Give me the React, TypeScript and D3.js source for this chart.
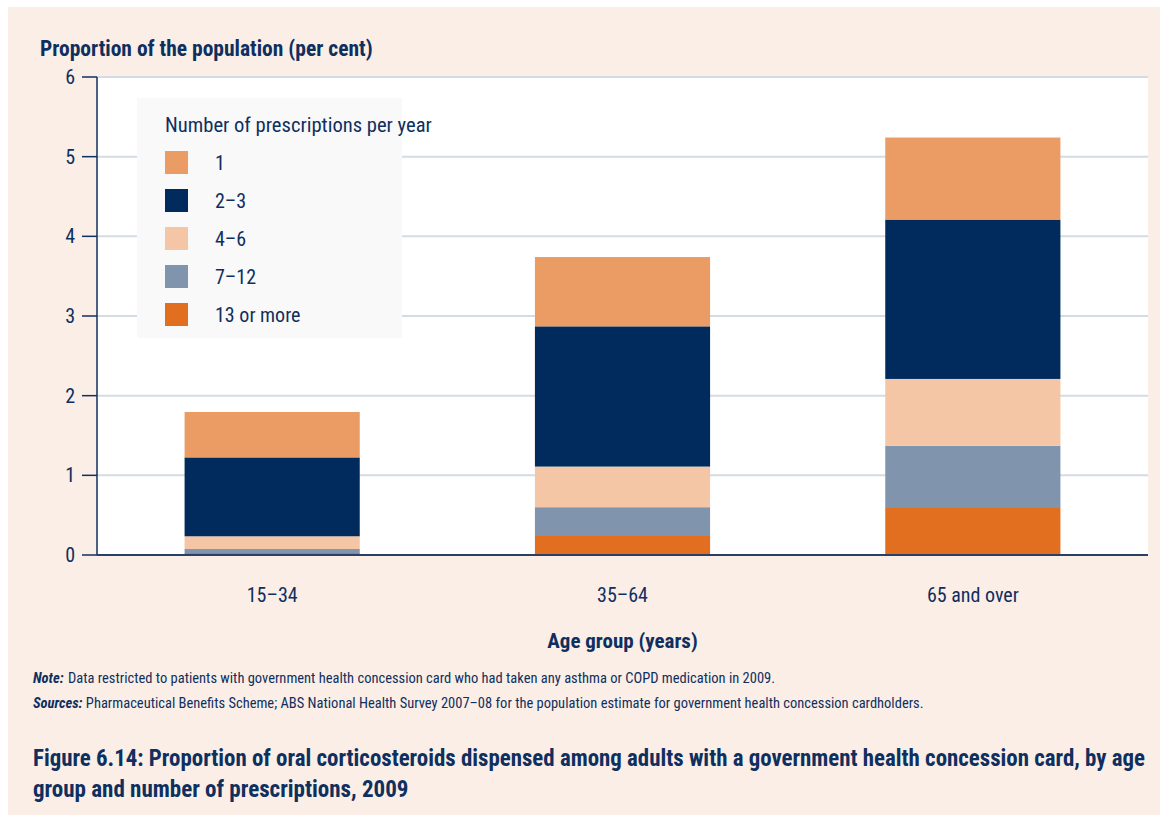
import React from "react";
import * as d3 from "d3";

const categories = ["15–34", "35–64", "65 and over"];
const seriesNames = ["13 or more", "7–12", "4–6", "2–3", "1"];
const s13plus = [0.025, 0.25, 0.59];
const s7to12 = [0.05, 0.35, 0.78];
const s4to6 = [0.16, 0.51, 0.84];
const s2to3 = [0.99, 1.76, 2.0];
const s1 = [0.57, 0.87, 1.03];
const yTicks = [0, 1, 2, 3, 4, 5, 6];
const legendOrder = ["1", "2–3", "4–6", "7–12", "13 or more"];

const colors: Record<string, string> = {
  "1": "#eb9b64",
  "2–3": "#002b5c",
  "4–6": "#f4c6a6",
  "7–12": "#8194ae",
  "13 or more": "#e26e1f",
};

const FONT = "'Liberation Sans Narrow', 'Roboto Condensed', 'Liberation Sans', sans-serif";
const NAVY = "#0f2f5f";

export default function App() {
  const W = 1166, H = 820;
  const left = 97, right = 1148, top = 77, bottom = 555;
  const x = d3.scaleBand<string>().domain(categories).range([left, right]).paddingInner(0.5).paddingOuter(0.25);
  const y = d3.scaleLinear().domain([0, 6]).range([bottom, top]);

  const table = categories.map((c, i) => ({
    cat: c,
    "13 or more": s13plus[i],
    "7–12": s7to12[i],
    "4–6": s4to6[i],
    "2–3": s2to3[i],
    "1": s1[i],
  }));
  const stacked = d3.stack<any>().keys(seriesNames)(table);

  return (
    <svg width={W} height={H} style={{ position: "absolute", left: 0, top: 0 }} fontFamily={FONT}>
      <rect x={0} y={0} width={W} height={H} fill="#ffffff" />
      <rect x={8} y={7} width={1152} height={808} fill="#faeee6" />
      <rect x={left} y={top} width={right - left} height={bottom - top} fill="#ffffff" />
      {yTicks.filter((t) => t > 0).map((t) => (
        <line key={t} x1={left} x2={right} y1={y(t)} y2={y(t)} stroke="#d5dbe3" strokeWidth={2} />
      ))}
      <rect x={137} y={98} width={265} height={240} fill="#f9f9f9" />
      {stacked.map((layer) => (
        <g key={layer.key} fill={colors[layer.key]}>
          {layer.map((d, i) => (
            <rect key={i} x={x(categories[i])} width={x.bandwidth()} y={y(d[1])} height={y(d[0]) - y(d[1])} />
          ))}
        </g>
      ))}
      <line x1={left} x2={left} y1={top} y2={bottom} stroke={NAVY} strokeWidth={1.5} />
      <line x1={left} x2={right} y1={bottom} y2={bottom} stroke="#2a3f66" strokeWidth={2} />
      {yTicks.map((t) => (
        <g key={t}>
          <line x1={82} x2={left} y1={y(t)} y2={y(t)} stroke={NAVY} strokeWidth={1.5} />
          <text x={75} y={y(t) + 7} textAnchor="end" fontSize={20} fill={NAVY}>{t}</text>
        </g>
      ))}
      {categories.map((c) => (
        <text key={c} x={(x(c) as number) + x.bandwidth() / 2} y={602} textAnchor="middle" fontSize={20} fill={NAVY}>{c}</text>
      ))}
      <text x={40} y={56} fontSize={21.5} fontWeight="bold" fill={NAVY}>Proportion of the population (per cent)</text>
      <text x={(left + right) / 2} y={648} textAnchor="middle" fontSize={21} fontWeight="bold" fill={NAVY}>Age group (years)</text>

      <text x={165} y={132} fontSize={20.6} fill={NAVY}>Number of prescriptions per year</text>
      {legendOrder.map((k, i) => (
        <g key={k}>
          <rect x={165} y={151 + i * 38} width={23} height={23} fill={colors[k]} />
          <text x={215} y={170 + i * 38} fontSize={20} fill={NAVY}>{k}</text>
        </g>
      ))}

      <text x={33} y={683} fontSize={14.5} fill={NAVY}>
        <tspan fontWeight="bold" fontStyle="italic">Note:</tspan>
        <tspan x={68}>Data restricted to patients with government health concession card who had taken any asthma or COPD medication in 2009.</tspan>
      </text>
      <text x={33} y={708} fontSize={14.5} fill={NAVY}>
        <tspan fontWeight="bold" fontStyle="italic">Sources:</tspan>
        <tspan> Pharmaceutical Benefits Scheme; ABS National Health Survey 2007–08 for the population estimate for government health concession cardholders.</tspan>
      </text>
      <text x={33} y={766} fontSize={23} fontWeight="bold" fill={NAVY} textLength={1112} lengthAdjust="spacingAndGlyphs">
        Figure 6.14: Proportion of oral corticosteroids dispensed among adults with a government health concession card, by age
      </text>
      <text x={33} y={797} fontSize={23} fontWeight="bold" fill={NAVY}>group and number of prescriptions, 2009</text>
    </svg>
  );
}
